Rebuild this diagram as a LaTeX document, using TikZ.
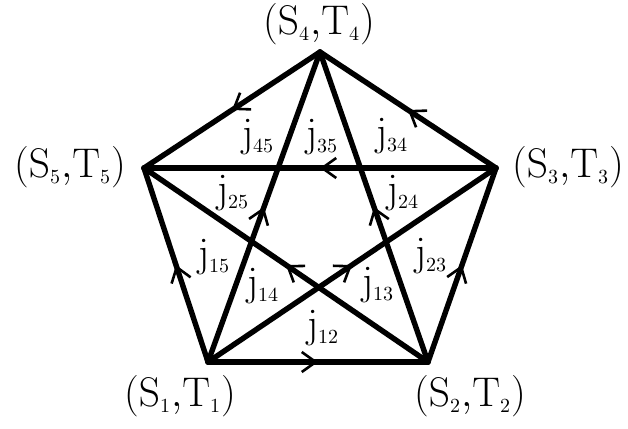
\documentclass[tikz,border=0pt]{standalone}
\usetikzlibrary{arrows.meta,decorations.markings}
\newcommand{\sub}[1]{_{\scriptscriptstyle #1}}
\begin{document}
\begin{tikzpicture}[x=0.5pt,y=-0.5pt,
  edge/.style={line width=2.7pt, line cap=round, line join=round,
    postaction={decorate},
    decoration={markings, mark=at position 0.5 with {\arrow{Straight Barb[length=7pt,width=10pt,line width=1.3pt]}}}},
  lab/.style={font=\fontsize{20.5}{24}\selectfont, inner sep=0pt}]
\useasboundingbox (0,0) rectangle (628,429);
% vertices
\coordinate (v1) at (208,362);
\coordinate (v2) at (428,362);
\coordinate (v3) at (496,168);
\coordinate (v4) at (320,52);
\coordinate (v5) at (144,168);
% edges (lower index -> higher index)
\draw[edge] (v1) -- (v2);
\draw[edge] (v1) -- (v3);
\draw[edge] (v1) -- (v4);
\draw[edge] (v1) -- (v5);
\draw[edge] (v2) -- (v3);
\draw[edge] (v2) -- (v4);
\draw[edge] (v2) -- (v5);
\draw[edge] (v3) -- (v4);
\draw[edge] (v3) -- (v5);
\draw[edge] (v4) -- (v5);
% vertex labels
\node[lab] (l4) at (319,24) {$(\mathrm{S}\sub4{,}\mathrm{T}\sub4)$};
\node[lab] (l5) at (70,167) {$(\mathrm{S}\sub5{,}\mathrm{T}\sub5)$};
\node[lab] (l3) at (568,167) {$(\mathrm{S}\sub3{,}\mathrm{T}\sub3)$};
\node[lab] (l1) at (180,396) {$(\mathrm{S}\sub1{,}\mathrm{T}\sub1)$};
\node[lab] (l2) at (470,396) {$(\mathrm{S}\sub2{,}\mathrm{T}\sub2)$};
% flux labels
\node[lab] (j45) at (258,137) {$\mathrm{j}\sub{45}$};
\node[lab] (j35) at (322,137) {$\mathrm{j}\sub{35}$};
\node[lab] (j34) at (392,136) {$\mathrm{j}\sub{34}$};
\node[lab] (j25) at (233,193) {$\mathrm{j}\sub{25}$};
\node[lab] (j24) at (403,193) {$\mathrm{j}\sub{24}$};
\node[lab] (j15) at (214,257) {$\mathrm{j}\sub{15}$};
\node[lab] (j23) at (431,256) {$\mathrm{j}\sub{23}$};
\node[lab] (j14) at (263,286) {$\mathrm{j}\sub{14}$};
\node[lab] (j13) at (378,285) {$\mathrm{j}\sub{13}$};
\node[lab] (j12) at (323,328) {$\mathrm{j}\sub{12}$};
\end{tikzpicture}
\end{document}
